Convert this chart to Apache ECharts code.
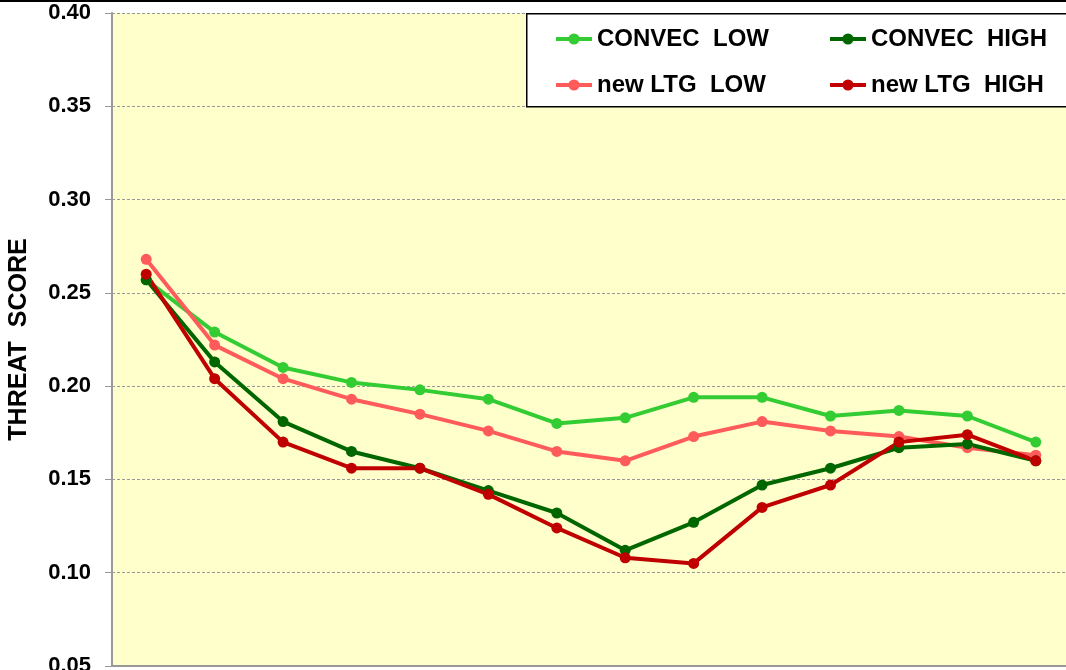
<!DOCTYPE html>
<html>
<head>
<meta charset="utf-8">
<script src="https://cdn.jsdelivr.net/npm/echarts@6/dist/echarts.min.js"></script>
<style>
  html, body { margin: 0; padding: 0; background: #fff; }
  #content { width: 1066px; height: 670px; }
</style>
</head>
<body>
<div id="content"></div>
<script>
// categories (x labels fall below the visible window)
const categories = ['1', '2', '3', '4', '5', '6', '7', '8', '9', '10', '11', '12', '13', '14']
// threat scores
const convecLow = [0.257, 0.229, 0.210, 0.202, 0.198, 0.193, 0.180, 0.183, 0.194, 0.194, 0.184, 0.187, 0.184, 0.170]
const ltgLow = [0.268, 0.222, 0.204, 0.193, 0.185, 0.176, 0.165, 0.160, 0.173, 0.181, 0.176, 0.173, 0.167, 0.163]
const convecHigh = [0.257, 0.213, 0.181, 0.165, 0.156, 0.144, 0.132, 0.112, 0.127, 0.147, 0.156, 0.167, 0.169, 0.160]
const ltgHigh = [0.260, 0.204, 0.170, 0.156, 0.156, 0.142, 0.124, 0.108, 0.105, 0.135, 0.147, 0.170, 0.174, 0.160]

const font = '"Liberation Sans", Arial, sans-serif'

function line(name, data, color) {
  return {
    name: name,
    type: 'line',
    data: data,
    symbol: 'circle',
    symbolSize: 11,
    lineStyle: {width: 4, color: color},
    itemStyle: {color: color},
    emphasis: {disabled: true}
  }
}

const legendText = {fontFamily: font, fontWeight: 'bold', fontSize: 24, color: '#000'}

const myChart = echarts.init(document.querySelector('#content'))
myChart.setOption({
  animation: false,
  graphic: [
    {type: 'rect', left: 0, top: 0, z: 10, shape: {width: 1066, height: 2}, style: {fill: '#000'}},
    {type: 'rect', left: 526, top: 13, z: 3, shape: {width: 560, height: 93}, style: {fill: '#fff', stroke: '#000', lineWidth: 1.5}}
  ],
  legend: [
    {
      data: ['CONVEC  LOW', 'new LTG  LOW'],
      orient: 'vertical',
      left: 554, top: 27, padding: 0,
      itemWidth: 36, itemHeight: 14, itemGap: 22,
      lineStyle: {width: 4},
      textStyle: legendText
    },
    {
      data: ['CONVEC  HIGH', 'new LTG  HIGH'],
      orient: 'vertical',
      left: 828, top: 27, padding: 0,
      itemWidth: 36, itemHeight: 14, itemGap: 22,
      lineStyle: {width: 4},
      textStyle: legendText
    }
  ],
  grid: {
    left: 112, top: 13, width: 958, height: 653,
    outerBoundsMode: 'none',
    containLabel: false,
    show: true, backgroundColor: '#ffffcc', borderWidth: 0
  },
  xAxis: {
    type: 'category',
    data: categories,
    boundaryGap: true,
    axisLine: {lineStyle: {color: '#999', width: 2}},
    axisTick: {length: 6, lineStyle: {color: '#999'}},
    axisLabel: {fontFamily: font, fontWeight: 'bold', fontSize: 20, color: '#000'}
  },
  yAxis: {
    type: 'value',
    min: 0.05, max: 0.40, interval: 0.05,
    name: 'THREAT  SCORE',
    nameLocation: 'middle',
    nameRotate: 90,
    nameGap: 80,
    nameTextStyle: {fontFamily: font, fontWeight: 'bold', fontSize: 25, color: '#000'},
    axisLine: {show: true, lineStyle: {color: '#999', width: 2}},
    axisTick: {show: true, length: 7, lineStyle: {color: '#999'}},
    axisLabel: {
      margin: 21,
      fontFamily: font, fontWeight: 'bold', fontSize: 22, color: '#000',
      formatter: v => v.toFixed(2)
    },
    splitLine: {lineStyle: {color: '#999', type: [3, 2], width: 1}}
  },
  series: [
    line('CONVEC  LOW', convecLow, '#33cc33'),
    line('new LTG  LOW', ltgLow, '#ff5b5b'),
    line('CONVEC  HIGH', convecHigh, '#006600'),
    line('new LTG  HIGH', ltgHigh, '#c00000')
  ]
})
</script>
</body>
</html>
